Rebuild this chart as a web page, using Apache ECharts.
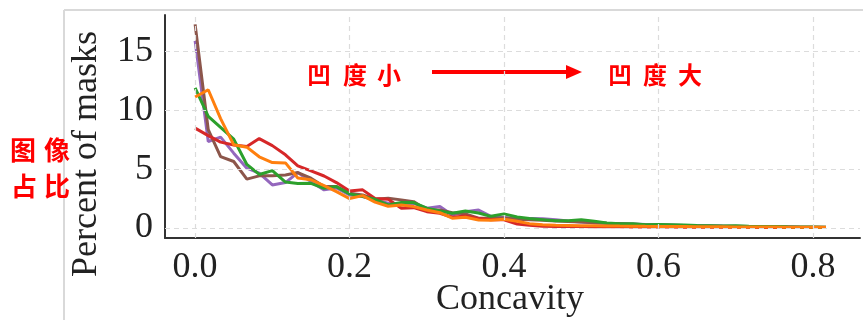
<!DOCTYPE html>
<html><head><meta charset="utf-8">
<script src="https://cdn.jsdelivr.net/npm/echarts@6/dist/echarts.min.js"></script>
<style>html,body{margin:0;padding:0;background:#fff}#c{width:863px;height:320px}</style>
</head><body><div id="c"></div>
<script>
const concavity = [0.000,0.017,0.033,0.050,0.067,0.083,0.100,0.117,0.133,0.150,
  0.167,0.183,0.200,0.217,0.233,0.250,0.267,0.283,0.300,0.317,
  0.333,0.350,0.367,0.383,0.400,0.417,0.433,0.450,0.467,0.483,
  0.500,0.517,0.533,0.550,0.567,0.583,0.600,0.617,0.633,0.650,
  0.667,0.683,0.700,0.717,0.733,0.750,0.767,0.783,0.800,0.817];
const purpleVals = [15.9,7.35,7.72,6.36,5.08,4.66,3.66,3.86,4.71,3.94,
  3.24,3.4,2.81,2.67,2.38,2.1,1.96,2.1,1.68,1.82,
  1.1,1.39,1.53,0.99,0.9,0.8,0.8,0.79,0.7,0.6,
  0.5,0.45,0.4,0.38,0.35,0.3,0.28,0.25,0.22,0.2,
  0.18,0.16,0.15,0.13,0.12,0.1,0.1,0.08,0.07,0.06];
const brownVals = [17.3,8.35,6.07,5.65,4.15,4.43,4.43,4.5,4.71,4.23,
  3.52,3.52,2.96,2.81,2.44,2.53,2.39,2.24,1.53,1.53,
  1.3,1.2,0.83,0.83,0.85,0.75,0.7,0.65,0.6,0.55,
  0.5,0.45,0.4,0.36,0.32,0.28,0.25,0.22,0.2,0.18,
  0.16,0.14,0.12,0.11,0.1,0.09,0.08,0.07,0.06,0.05];
const redVals = [8.49,7.85,7.3,7.05,6.93,7.6,7.0,6.22,5.28,4.85,
  4.42,3.86,3.15,3.24,2.5,2.44,1.68,1.73,1.39,1.25,
  0.91,1.02,0.8,0.71,0.7,0.34,0.23,0.14,0.13,0.12,
  0.12,0.11,0.1,0.1,0.09,0.09,0.08,0.08,0.07,0.07,
  0.07,0.06,0.06,0.06,0.05,0.05,0.05,0.05,0.04,0.04];
const greenVals = [11.9,9.48,8.55,7.55,5.4,4.55,4.88,3.9,3.78,3.8,
  3.38,3.52,2.9,2.67,2.44,1.96,2.16,2.16,1.68,1.45,
  1.25,1.45,1.28,0.99,1.2,0.94,0.8,0.71,0.62,0.62,
  0.71,0.57,0.43,0.37,0.37,0.28,0.3,0.28,0.25,0.22,
  0.2,0.18,0.2,0.15,0.12,0.12,0.1,0.09,0.08,0.07];
const orangeVals = [11.13,11.75,9.3,7.07,6.87,6.05,5.56,5.53,4.25,4.1,
  3.6,3.09,2.5,2.75,2.2,1.85,1.96,1.82,1.53,1.3,
  0.83,0.91,0.68,0.65,0.75,0.57,0.37,0.28,0.23,0.22,
  0.2,0.2,0.18,0.16,0.15,0.14,0.13,0.12,0.12,0.11,
  0.1,0.1,0.09,0.09,0.08,0.08,0.07,0.07,0.06,0.06];
const xTicks = [0.0,0.2,0.4,0.6,0.8];
const yTicks = [0,5,10,15];
const yName = 'Percent of masks';
const xName = 'Concavity';

const seriesDefs = [
  {name:'purple', data:purpleVals, color:'#9467bd'},
  {name:'brown', data:brownVals, color:'#8c564b'},
  {name:'red', data:redVals, color:'#d62728'},
  {name:'green', data:greenVals, color:'#2ca02c'},
  {name:'orange', data:orangeVals, color:'#ff7f0e'}
];

const serif = '"Liberation Serif","DejaVu Serif",serif';
const cjk = '"Noto Sans CJK SC",sans-serif';
const red = '#ff0000';

function chars(str, xs, y, size){
  return str.split('').map((ch,i)=>({type:'text', x:xs[i], y:y, silent:true,
    style:{text:ch, fill:red, font:'bold '+size+'px '+cjk, textAlign:'center', textVerticalAlign:'middle'}}));
}

const chart = echarts.init(document.getElementById('c'), null, {renderer:'canvas'});
chart.setOption({
  backgroundColor:'#fff',
  animation:false,
  grid:{left:165, top:15, right:3, bottom:82, containLabel:false},
  xAxis:{type:'value', min:-0.039, max:0.861, interval:0.2,
    axisLine:{show:true, onZero:false, lineStyle:{color:'#333', width:2}},
    axisTick:{show:false},
    axisLabel:{fontFamily:serif, fontSize:36, color:'#222', margin:12,
      customValues:xTicks, formatter:v=>v.toFixed(1)},
    splitLine:{show:false}},
  yAxis:{type:'value', min:-0.85, max:18.1,
    axisLine:{show:true, onZero:false, lineStyle:{color:'#333', width:2}},
    axisTick:{show:false},
    axisLabel:{fontFamily:serif, fontSize:36, color:'#222', margin:12, customValues:yTicks},
    splitLine:{show:false}},
  series: seriesDefs.map(s=>({type:'line', name:s.name, showSymbol:false, symbol:'none',
    data: concavity.map((x,i)=>[x, s.data[i]]),
    lineStyle:{color:s.color, width:3}, itemStyle:{color:s.color}, z:3}))
  .concat([
    {type:'line', data:[], markLine:{silent:true, symbol:'none', label:{show:false},
      lineStyle:{color:'#dcdcdc', type:[5,4], width:1.2},
      data: xTicks.map(v=>({xAxis:v})).concat(yTicks.map(v=>({yAxis:v})))}, z:1}
  ]),
  graphic:[
    {type:'line', silent:true, shape:{x1:64, y1:10, x2:863, y2:10}, style:{stroke:'#d9d9d9', lineWidth:2}},
    {type:'line', silent:true, shape:{x1:64, y1:10, x2:64, y2:320}, style:{stroke:'#d9d9d9', lineWidth:2}},
    {type:'text', x:87, y:154, rotation:Math.PI/2, silent:true,
      style:{text:yName, fill:'#222', font:'36px '+serif, textAlign:'center', textVerticalAlign:'middle'}},
    {type:'text', x:510, y:300, silent:true,
      style:{text:xName, fill:'#222', font:'36px '+serif, textAlign:'center', textVerticalAlign:'middle'}},
    {type:'line', silent:true, shape:{x1:432, y1:72, x2:570, y2:72}, style:{stroke:red, lineWidth:4}},
    {type:'polygon', silent:true, shape:{points:[[566,65],[582,72],[566,79]]}, style:{fill:red}},
  ].concat(chars('凹度小',[319,355,389],75,24))
   .concat(chars('凹度大',[620,655,690],75,24))
   .concat(chars('图像',[23,57],150,26))
   .concat(chars('占比',[24,57],186,26))
});
</script></body></html>
